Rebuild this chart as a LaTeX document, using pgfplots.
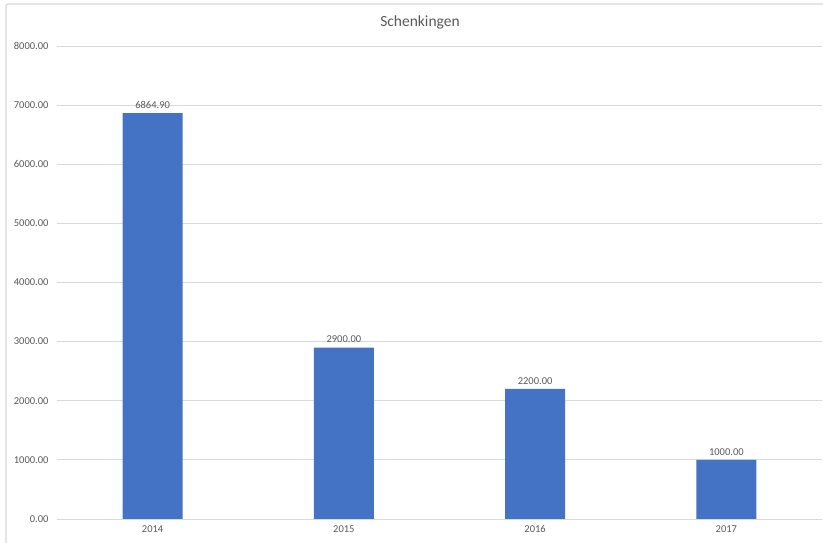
\documentclass[border=0pt]{standalone}
\usepackage{pgfplots}
\pgfplotsset{compat=1.18}
\usepackage{fontspec}
\setmainfont{Carlito}
\definecolor{barblue}{RGB}{68,114,196}
\definecolor{gridgray}{RGB}{217,217,217}
\definecolor{txtgray}{RGB}{89,89,89}
\begin{document}
\begin{tikzpicture}[x=1pt,y=1pt]
\path[use as bounding box] (0,0) rectangle (823,543);
\draw[gridgray, line width=1.2pt, rounded corners=2pt] (6,-10) rectangle (840,539);
\node[txtgray, font=\fontsize{15.5}{18}\selectfont] at (420,521) {Schenkingen};
\begin{axis}[
  at={(57pt,24pt)}, anchor=south west,
  scale only axis,
  width=765pt, height=473pt,
  xmin=-0.5, xmax=3.5,
  ymin=0, ymax=8000,
  ytick={0,1000,...,8000},
  xtick=data,
  xticklabels={2014,2015,2016,2017},
  axis line style={draw=none},
  ymajorgrids,
  grid style={gridgray, line width=0.8pt},
  major tick length=0pt,
  tick label style={txtgray, font=\fontsize{10.5}{12}\selectfont},
  /pgf/number format/assume math mode=true,
  yticklabel style={/pgf/number format/fixed, /pgf/number format/fixed zerofill,
    /pgf/number format/precision=2, /pgf/number format/1000 sep={}, xshift=-5pt},
  scaled y ticks=false,
  xticklabel style={yshift=-3pt},
  ybar,
  bar width=0.313,
  nodes near coords,
  every node near coord/.append style={txtgray, font=\fontsize{10.5}{12}\selectfont, yshift=1pt,
    /pgf/number format/fixed, /pgf/number format/fixed zerofill,
    /pgf/number format/precision=2, /pgf/number format/1000 sep={}},
  clip=false,
]
\draw[gridgray, line width=0.8pt] (axis cs:-0.5,0) -- (axis cs:3.5,0);
\addplot[fill=barblue, draw=none] coordinates {(0,6864.9) (1,2900) (2,2200) (3,1000)};
\end{axis}
\end{tikzpicture}
\end{document}
